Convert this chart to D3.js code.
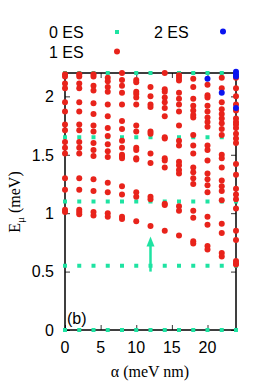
<!DOCTYPE html>
<html>
	<head>
		<meta charset="utf-8">
		<title>ES levels</title>
		<script src="https://d3js.org/d3.v7.min.js"></script>
		<style>
			body { margin: 0; background: white; }
			#plot { width: 274px; height: 384px; }
		</style>
	</head>
	<body>
		<div id='plot'></div>
		<script>
			// alpha columns (meV nm)
			var alphas = [0, 2, 4, 6, 8, 10, 12, 14, 16, 18, 20, 22, 24]
			// 0 ES levels, same for every alpha
			var es0Levels = [0, 0.55, 1.1, 1.65, 2.2]
			// 1 ES energies, one list per alpha column
			var es1 = [
				[2.19, 2.17, 2.11, 2.07, 1.95, 1.87, 1.76, 1.71, 1.61, 1.56, 1.51, 1.30, 1.20, 1.03, 1.01],
				[2.19, 2.17, 2.11, 2.07, 1.95, 1.87, 1.76, 1.71, 1.61, 1.56, 1.51, 1.30, 1.20, 1.03, 1.01, 0.99],
				[2.19, 2.17, 2.09, 2.05, 1.94, 1.85, 1.75, 1.70, 1.60, 1.54, 1.49, 1.29, 1.19, 1.01, 0.98],
				[2.16, 2.13, 2.08, 2.04, 1.93, 1.83, 1.73, 1.66, 1.59, 1.53, 1.48, 1.26, 1.18, 1.00, 0.97],
				[2.20, 2.14, 2.09, 2.03, 1.93, 1.79, 1.72, 1.62, 1.56, 1.50, 1.485, 1.47, 1.23, 1.16, 0.97, 0.95],
				[2.14, 2.12, 2.04, 2.02, 1.99, 1.93, 1.75, 1.70, 1.56, 1.54, 1.47, 1.46, 1.18, 1.14, 0.93],
				[2.08, 2.00, 1.93, 1.91, 1.70, 1.68, 1.51, 1.43, 1.14, 1.12, 0.89],
				[2.20, 2.06, 2.04, 1.99, 1.95, 1.90, 1.83, 1.65, 1.64, 1.47, 1.45, 1.39, 1.08, 1.07, 0.85],
				[2.18, 2.16, 2.135, 2.03, 1.98, 1.93, 1.87, 1.75, 1.62, 1.58, 1.44, 1.41, 1.37, 1.34, 1.06, 1.02, 0.81],
				[2.15, 2.08, 1.98, 1.92, 1.88, 1.84, 1.82, 1.67, 1.58, 1.51, 1.39, 1.35, 1.30, 1.25, 1.02, 0.96, 0.76, 0.74],
				[2.10, 2.01, 1.99, 1.92, 1.87, 1.82, 1.78, 1.74, 1.58, 1.54, 1.45, 1.34, 1.29, 1.24, 1.18, 0.97, 0.90, 0.72, 0.69],
				[2.16, 2.07, 1.95, 1.89, 1.85, 1.81, 1.77, 1.72, 1.67, 1.50, 1.47, 1.39, 1.28, 1.23, 1.19, 1.11, 0.91, 0.83, 0.66, 0.63],
				[2.16, 2.07, 2.00, 1.93, 1.88, 1.81, 1.78, 1.76, 1.73, 1.68, 1.64, 1.60, 1.42, 1.33, 1.21, 1.16, 1.12, 1.04, 0.85, 0.77, 0.59, 0.57, 0.56]
			]
			// 2 ES points [alpha, E]
			var es2 = [[20, 2.15], [22, 2.03], [24, 2.21], [24, 2.19], [24, 2.17], [24, 1.90]]
			var xTicks = [0, 5, 10, 15, 20]
			var yTicks = [0, 0.5, 1, 1.5, 2]
			// arrow at alpha=12, from E=0.5 up to 0.8
			var arrowAlpha = 12, arrowFrom = 0.5, arrowTo = 0.8

			var green = '#1ee3a2', red = '#e8231b', blue = '#0a14f0'
			var sans = 'Liberation Sans, Arial, sans-serif'
			var serif = 'Liberation Serif, Times New Roman, serif'

			var pLeft = 65, pRight = 236, pTop = 73, pBottom = 330

			var svg = d3.select('#plot').append('svg')
					.attr('width', 274)
					.attr('height', 384)

			var xScale = d3.scaleLinear().domain([0, 24]).range([pLeft, pRight])
			var yScale = d3.scaleLinear().domain([0, 2.2]).range([pBottom, pTop])

			// ticks, mirrored and pointing inwards
			svg.append('g')
					.attr('transform', 'translate(0,' + pBottom + ')')
					.call(d3.axisBottom(xScale).tickValues(xTicks).tickSize(-5).tickFormat(''))
			svg.append('g')
					.attr('transform', 'translate(0,' + pTop + ')')
					.call(d3.axisTop(xScale).tickValues(xTicks).tickSize(-5).tickFormat(''))
			svg.append('g')
					.attr('transform', 'translate(' + pLeft + ',0)')
					.call(d3.axisLeft(yScale).tickValues(yTicks).tickSize(-5).tickFormat(''))
			svg.append('g')
					.attr('transform', 'translate(' + pRight + ',0)')
					.call(d3.axisRight(yScale).tickValues(yTicks).tickSize(-5).tickFormat(''))
			svg.selectAll('.domain').remove()
			svg.selectAll('.tick line').attr('stroke', '#333')

			svg.append('rect')
					.attr('x', pLeft).attr('y', pTop)
					.attr('width', pRight - pLeft).attr('height', pBottom - pTop)
					.attr('fill', 'none').attr('stroke', 'black').attr('stroke-width', 1.5)

			// tick labels
			svg.selectAll('.xlab')
				.data(xTicks).enter()
				.append('text')
					.attr('x', function(d){return xScale(d)})
					.attr('y', pBottom + 23)
					.attr('text-anchor', 'middle')
					.style('font-family', sans).style('font-size', '16px')
					.text(function(d){return d})
			svg.selectAll('.ylab')
				.data(yTicks).enter()
				.append('text')
					.attr('x', pLeft - 11)
					.attr('y', function(d){return yScale(d)})
					.attr('dy', '0.36em')
					.attr('text-anchor', 'end')
					.style('font-family', sans).style('font-size', '16px')
					.text(function(d){return d})

			// 0 ES squares
			var pts0 = []
			alphas.forEach(function(a){ es0Levels.forEach(function(e){ pts0.push([a, e]) }) })
			svg.selectAll('.es0')
				.data(pts0).enter()
				.append('rect')
					.attr('x', function(d){return xScale(d[0]) - 2})
					.attr('y', function(d){return yScale(d[1]) - 2})
					.attr('width', 4).attr('height', 4)
					.attr('fill', green)

			// 1 ES dots
			var pts1 = []
			alphas.forEach(function(a, i){ es1[i].forEach(function(e){ pts1.push([a, e]) }) })
			svg.selectAll('.es1')
				.data(pts1).enter()
				.append('circle')
					.attr('cx', function(d){return xScale(d[0])})
					.attr('cy', function(d){return yScale(d[1])})
					.attr('r', 3)
					.attr('fill', red)

			// 2 ES dots
			svg.selectAll('.es2')
				.data(es2).enter()
				.append('circle')
					.attr('cx', function(d){return xScale(d[0])})
					.attr('cy', function(d){return yScale(d[1])})
					.attr('r', 3)
					.attr('fill', blue)

			// arrow
			var ax = xScale(arrowAlpha)
			svg.append('line')
					.attr('x1', ax).attr('x2', ax)
					.attr('y1', yScale(arrowFrom)).attr('y2', yScale(arrowTo) + 8)
					.attr('stroke', green).attr('stroke-width', 2.5)
			svg.append('path')
					.attr('d', 'M' + (ax - 4) + ',' + (yScale(arrowTo) + 10) + 'L' + ax + ',' + yScale(arrowTo) + 'L' + (ax + 4) + ',' + (yScale(arrowTo) + 10) + 'Z')
					.attr('fill', green)

			// panel label
			svg.append('text')
					.attr('x', pLeft + 2).attr('y', pBottom - 6)
					.style('font-family', sans).style('font-size', '16px')
					.text('(b)')

			// axis titles
			svg.append('text')
					.attr('x', 150).attr('y', 377)
					.attr('text-anchor', 'middle')
					.style('font-family', serif).style('font-size', '16px')
					.text('\u03b1 (meV nm)')
			var yt = svg.append('text')
					.attr('transform', 'translate(20,202) rotate(-90)')
					.attr('text-anchor', 'middle')
					.style('font-family', serif).style('font-size', '16px')
			yt.append('tspan').text('E')
			yt.append('tspan').attr('dy', 4).style('font-size', '11px').text('\u03bc')
			yt.append('tspan').attr('dy', -4).text(' (meV)')

			// legend
			var legend = [
				{name: '0 ES', x: 49, y: 37.5, sx: 117, shape: 'sq', color: green},
				{name: '1 ES', x: 49, y: 57.5, sx: 117, shape: 'dot', color: red},
				{name: '2 ES', x: 154, y: 37.5, sx: 223, shape: 'dot', color: blue}
			]
			legend.forEach(function(l){
				svg.append('text')
						.attr('x', l.x).attr('y', l.y)
						.style('font-family', sans).style('font-size', '16px')
						.text(l.name)
				if (l.shape == 'sq') {
					svg.append('rect')
							.attr('x', l.sx - 2).attr('y', l.y - 7.5)
							.attr('width', 4).attr('height', 4)
							.attr('fill', l.color)
				} else {
					svg.append('circle')
							.attr('cx', l.sx).attr('cy', l.y - 6)
							.attr('r', 3)
							.attr('fill', l.color)
				}
			})
		</script>
	</body>
</html>
